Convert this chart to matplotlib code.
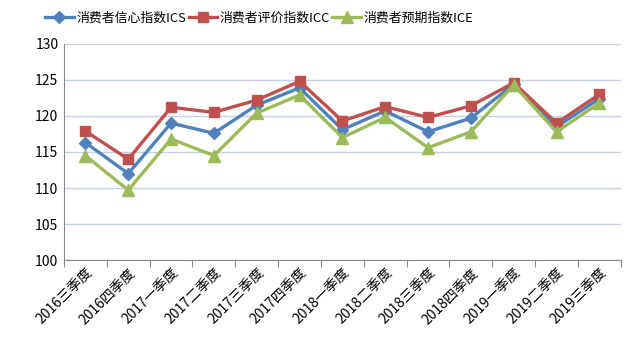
import matplotlib
matplotlib.use("Agg")
import matplotlib.pyplot as plt

plt.rcParams['font.family'] = ['Noto Sans CJK SC', 'DejaVu Sans']

quarters = ['2016三季度', '2016四季度', '2017一季度', '2017二季度', '2017三季度', '2017四季度',
            '2018一季度', '2018二季度', '2018三季度', '2018四季度', '2019一季度', '2019二季度', '2019三季度']
ics = [116.3, 112.0, 119.0, 117.6, 121.5, 123.9, 118.1, 120.7, 117.8, 119.7, 124.4, 118.5, 122.4]
icc = [117.9, 114.0, 121.2, 120.5, 122.2, 124.8, 119.3, 121.3, 119.8, 121.4, 124.6, 119.0, 123.0]
ice = [114.5, 109.7, 116.8, 114.5, 120.4, 122.9, 117.0, 119.8, 115.6, 117.8, 124.3, 117.8, 121.8]

fig = plt.figure(figsize=(6.4, 3.51), dpi=100)
ax = fig.add_axes([0.1, 0.259, 0.87, 0.616])

x = list(range(len(quarters)))
ax.plot(x, ics, color='#4F81BD', lw=2.4, marker='D', ms=6, label='消费者信心指数ICS')
ax.plot(x, icc, color='#C0504D', lw=2.4, marker='s', ms=7.5, label='消费者评价指数ICC')
ax.plot(x, ice, color='#9BBB59', lw=2.4, marker='^', ms=8, label='消费者预期指数ICE')

ax.set_ylim(100, 130)
ax.set_yticks(range(100, 131, 5))
ax.set_xlim(-0.5, len(quarters) - 0.5)
ax.set_xticks([i - 0.5 for i in range(len(quarters) + 1)])
ax.set_xticklabels([])
ax.set_xticks(x, minor=True)
ax.set_xticklabels(quarters, minor=True, rotation=45, ha='right', rotation_mode='anchor', fontsize=10)
ax.tick_params(axis='x', which='minor', length=0, pad=4)
ax.tick_params(axis='x', which='major', length=5, color='#888888')
ax.tick_params(axis='y', length=0, labelsize=10, pad=4)

ax.grid(axis='y', color='#C5D1E6', lw=1)
ax.set_axisbelow(True)
for s in ['top', 'right']:
    ax.spines[s].set_visible(False)
ax.spines['left'].set_color('#888888')
ax.spines['bottom'].set_color('#888888')

fig.legend(loc='upper center', bbox_to_anchor=(0.405, 1.0), ncol=3, frameon=False,
           fontsize=9.3, handlelength=2.2, handletextpad=0.2, columnspacing=0.2)

fig.savefig('out.png', dpi=100)
